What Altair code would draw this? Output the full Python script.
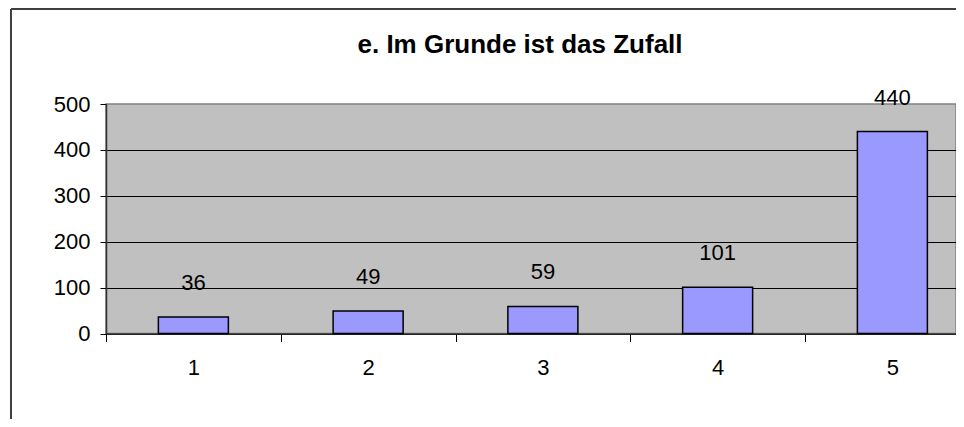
import altair as alt
import pandas as pd

categories = [1, 2, 3, 4, 5]
counts = [36, 49, 59, 101, 440]
title_text = ["e. Im Grunde ist das Zufall"]
y_ticks = [0, 100, 200, 300, 400, 500]
x_ticks = [0.5, 1, 1.5, 2, 2.5, 3, 3.5, 4, 4.5, 5]

df = pd.DataFrame({"cat": categories, "n": counts})

W, H = 850, 229.5
FONT = "Liberation Sans"

x = alt.X(
    "cat:Q",
    scale=alt.Scale(domain=[0.5, 5.364], nice=False, zero=False, padding=0),
    axis=alt.Axis(
        values=x_ticks, title=None,
        labelExpr="datum.value % 1 === 0 ? toString(datum.value) : ''",
        tickOpacity={"condition": {"test": "datum.value % 1 === 0", "value": 0}, "value": 1},
        tickSize=8, tickColor="black", tickWidth=1,
        labelPadding=16, labelFontSize=22, labelFont=FONT, labelColor="black",
        labelOverlap=False, labelFlush=False,
        domainColor="#333333", domainWidth=1.5, grid=False,
    ),
)
y = alt.Y(
    "n:Q",
    scale=alt.Scale(domain=[0, 500], nice=False),
    axis=alt.Axis(
        values=y_ticks, title=None, tickSize=6, tickColor="black",
        labelPadding=10, labelFontSize=22, labelFont=FONT, labelColor="black",
        domainColor="#333333", domainWidth=1.5,
        gridColor="black", gridWidth=1,
        gridOpacity={"condition": {"test": "datum.value === 500", "value": 0}, "value": 1},
    ),
)

base = alt.Chart(df)
bars = base.mark_bar(size=70, color="#9999FF", stroke="black", strokeWidth=1.5).encode(x=x, y=y)
labels = base.mark_text(baseline="bottom", dy=-22, fontSize=22, font=FONT, color="black").encode(
    x=x, y=y, text="n:Q"
)

title_df = pd.DataFrame({"t": title_text})
title = alt.Chart(title_df).mark_text(
    fontSize=26, fontWeight="bold", font=FONT, color="black", baseline="alphabetic", align="center"
).encode(x=alt.value(414), y=alt.value(-51), text="t:N")

frame_df = pd.DataFrame({"k": [0]})
frame_left = alt.Chart(frame_df).mark_rule(color="#404040", strokeWidth=2).encode(
    x=alt.value(-95), y=alt.value(-95), y2=alt.value(H + 100)
)
frame_top = alt.Chart(frame_df).mark_rule(color="#404040", strokeWidth=2).encode(
    x=alt.value(-95), x2=alt.value(W + 50), y=alt.value(-95)
)

chart = (
    alt.layer(bars, labels, title, frame_left, frame_top)
    .properties(
        width=W, height=H,
        autosize=alt.AutoSizeParams(type="none"),
        padding={"left": 98, "top": 96, "right": 0, "bottom": 85},
        background="white",
    )
    .configure_view(fill="#C0C0C0", stroke="#808080", strokeWidth=1.5)
)

chart.save("out.html", embed_options={"renderer": "svg", "actions": False})
